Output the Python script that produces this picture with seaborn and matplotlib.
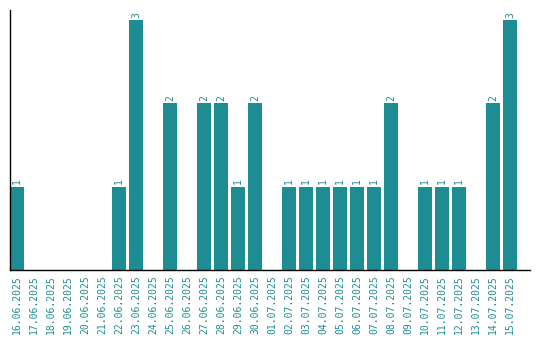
import matplotlib
matplotlib.use("Agg")
import matplotlib.pyplot as plt
import seaborn as sns
import pandas as pd

dates = ["16.06.2025", "17.06.2025", "18.06.2025", "19.06.2025", "20.06.2025",
         "21.06.2025", "22.06.2025", "23.06.2025", "24.06.2025", "25.06.2025",
         "26.06.2025", "27.06.2025", "28.06.2025", "29.06.2025", "30.06.2025",
         "01.07.2025", "02.07.2025", "03.07.2025", "04.07.2025", "05.07.2025",
         "06.07.2025", "07.07.2025", "08.07.2025", "09.07.2025", "10.07.2025",
         "11.07.2025", "12.07.2025", "13.07.2025", "14.07.2025", "15.07.2025"]
counts = [1, 0, 0, 0, 0, 0, 1, 3, 0, 2,
          0, 2, 2, 1, 2, 0, 1, 1, 1, 1,
          1, 1, 2, 0, 1, 1, 1, 0, 2, 3]

color = "#1e8c93"
df = pd.DataFrame({"date": dates, "count": counts})

sns.set_style("white")
plt.rcParams["font.family"] = ["DejaVu Sans Mono", "DejaVu Sans"]

fig = plt.figure(figsize=(5.4, 3.4), dpi=100)
ax = fig.add_axes([10/540, 70/340, 520/540, 260/340])
sns.barplot(data=df, x="date", y="count", color=color, width=0.82,
            saturation=1, ax=ax, order=dates, linewidth=0)

for i, v in enumerate(counts):
    if v > 0:
        ax.text(i, v + 0.03, str(v), rotation=90, ha="center", va="bottom",
                color=color, fontsize=7)

ax.set_xlim(-0.41, 30.18)
ax.set_ylim(0, 3.12)
ax.set_xlabel("")
ax.set_ylabel("")
ax.set_yticks([])
ax.tick_params(axis="x", length=0, pad=4, labelsize=7, labelcolor=color,
               rotation=90)
for s in ["top", "right"]:
    ax.spines[s].set_visible(False)
for s in ["left", "bottom"]:
    ax.spines[s].set_color("black")
    ax.spines[s].set_linewidth(1)

fig.savefig("out.png", dpi=100)
